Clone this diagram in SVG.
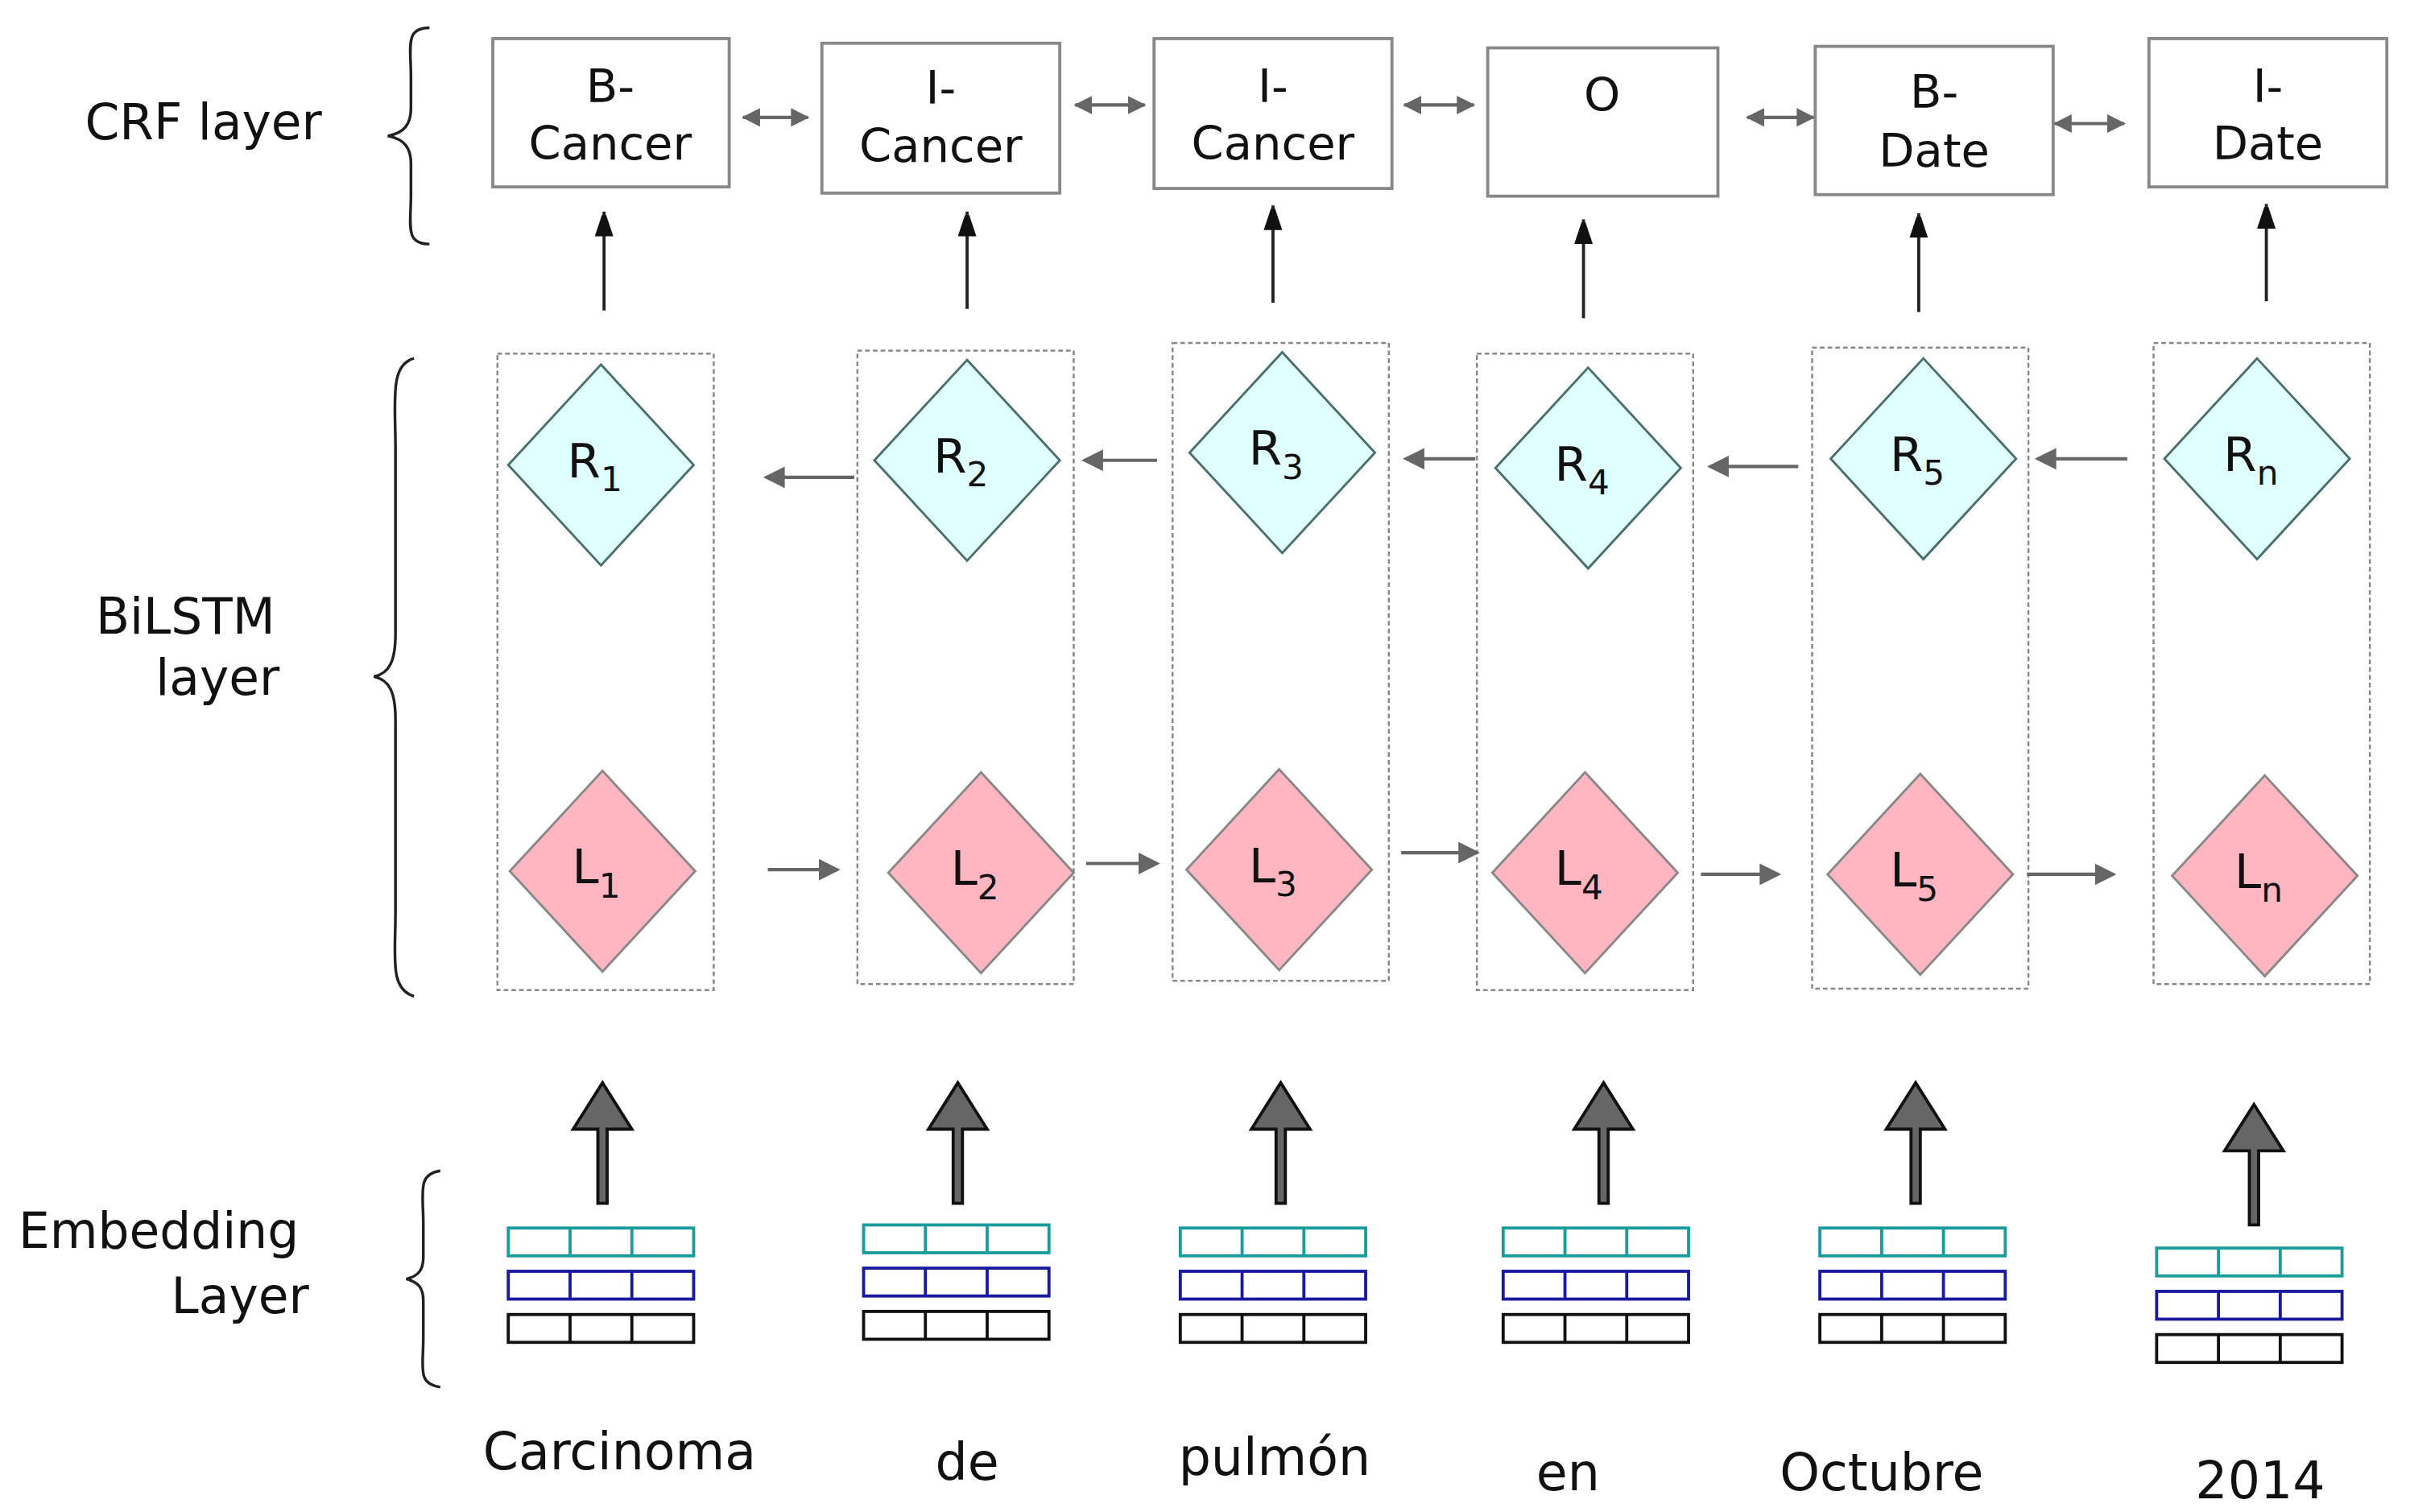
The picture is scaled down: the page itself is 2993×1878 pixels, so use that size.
<svg xmlns="http://www.w3.org/2000/svg" width="2993" height="1878" viewBox="0 0 2993 1878">
<style>
text{font-family:"DejaVu Sans","Liberation Sans",sans-serif;fill:#111}
.lbl{font-size:32px}
.crf{fill:#fff;stroke:#888;stroke-width:2}
.crft{font-size:30px;text-anchor:middle}
.dot{fill:none;stroke:#888;stroke-width:1.3;stroke-dasharray:3,2}
.rd{fill:#e0ffff;stroke:#4a6f6f;stroke-width:1.5}
.ld{fill:#ffb6c1;stroke:#888;stroke-width:1.5}
.dt{font-size:31px;text-anchor:middle}
.sub{font-size:22px}
.gline{stroke:#666;stroke-width:2.2;fill:none}
.kline{stroke:#222;stroke-width:2;fill:none}
.brace{fill:none;stroke:#222;stroke-width:1.8}
.ct{fill:none;stroke:#1a9c9c;stroke-width:2}
.cb{fill:none;stroke:#1a1aa0;stroke-width:2}
.ck{fill:none;stroke:#111;stroke-width:2}
.word{font-size:33px;text-anchor:middle}
</style>
<defs>
<marker id="ga" markerWidth="12" markerHeight="12" refX="11" refY="6" orient="auto-start-reverse" markerUnits="userSpaceOnUse"><path d="M0,0 L12,6 L0,12 Z" fill="#666"/></marker>
<marker id="ha" markerWidth="14" markerHeight="14" refX="12" refY="7" orient="auto" markerUnits="userSpaceOnUse"><path d="M0,0 L14,7 L0,14 Z" fill="#666"/></marker>
<marker id="ka" markerWidth="14" markerHeight="18" refX="16" refY="6" orient="auto" markerUnits="userSpaceOnUse"><path d="M0,0 L18,6 L0,12 Z" fill="#111"/></marker>
<path id="bigarrow" d="M-3,0 L-3,-48 L-19,-48 L0,-78 L19,-48 L3,-48 L3,0 Z" fill="#666" stroke="#111" stroke-width="2"/>
<g id="vec">
<rect class="ct" x="0" y="0" width="120" height="18"/><line class="ct" x1="40" y1="0" x2="40" y2="18"/><line class="ct" x1="80" y1="0" x2="80" y2="18"/>
<rect class="cb" x="0" y="28" width="120" height="18"/><line class="cb" x1="40" y1="28" x2="40" y2="46"/><line class="cb" x1="80" y1="28" x2="80" y2="46"/>
<rect class="ck" x="0" y="56" width="120" height="18"/><line class="ck" x1="40" y1="56" x2="40" y2="74"/><line class="ck" x1="80" y1="56" x2="80" y2="74"/>
</g>
</defs>
<rect width="2993" height="1878" fill="#fff"/>
<g transform="scale(1.9186)">
<g id="labels">
<text class="lbl" x="55" y="90">CRF layer</text>
<text class="lbl" x="62" y="410">BiLSTM</text>
<text class="lbl" x="181" y="450" text-anchor="end">layer</text>
<text class="lbl" x="12" y="808">Embedding</text>
<text class="lbl" x="200" y="850" text-anchor="end">Layer</text>
<path class="brace" d="M278,18 C262,18 266,30 266,50 L266,70 C266,80 262,86 251,88 C262,90 266,96 266,106 L266,126 C266,146 262,158 278,158"/>
<path class="brace" d="M268,232 C252,236 256,260 256,290 L256,410 C256,428 252,436 242,438 C252,440 256,448 256,466 L256,590 C256,620 252,640 268,645"/>
<path class="brace" d="M285,758 C270,760 274,772 274,792 L274,814 C274,822 271,826 263,828 C271,830 274,834 274,842 L274,866 C274,886 270,896 285,898"/>
</g>
<g id="crf">
<g id="crf1"><rect class="crf" x="319" y="25" width="153" height="96"/><text class="crft" x="395" y="66">B-</text><text class="crft" x="395" y="103">Cancer</text></g>
<g id="crf2"><rect class="crf" x="532" y="28" width="154" height="97"/><text class="crft" x="609" y="67">I-</text><text class="crft" x="609" y="105">Cancer</text></g>
<g id="crf3"><rect class="crf" x="747" y="25" width="154" height="97"/><text class="crft" x="824" y="66">I-</text><text class="crft" x="824" y="103">Cancer</text></g>
<g id="crf4"><rect class="crf" x="963" y="31" width="149" height="96"/><text class="crft" x="1037" y="72">O</text></g>
<g id="crf5"><rect class="crf" x="1175" y="30" width="154" height="96"/><text class="crft" x="1252" y="70">B-</text><text class="crft" x="1252" y="108">Date</text></g>
<g id="crf6"><rect class="crf" x="1391" y="25" width="154" height="96"/><text class="crft" x="1468" y="66">I-</text><text class="crft" x="1468" y="103">Date</text></g>
</g>
<g id="columns">
<rect id="col1" class="dot" x="322" y="229" width="140" height="412"/>
<rect id="col2" class="dot" x="555" y="227" width="140" height="410"/>
<rect id="col3" class="dot" x="759" y="222" width="140" height="413"/>
<rect id="col4" class="dot" x="956" y="229" width="140" height="412"/>
<rect id="col5" class="dot" x="1173" y="225" width="140" height="415"/>
<rect id="col6" class="dot" x="1394" y="222" width="140" height="415"/>
</g>
<g id="R">
<g id="R1"><path class="rd" d="M389,236 L449,301 L389,366 L329,301 Z"/><text class="dt" x="385" y="309">R<tspan class="sub" dy="9">1</tspan></text></g>
<g id="R2"><path class="rd" d="M626,233 L686,298 L626,363 L566,298 Z"/><text class="dt" x="622" y="306">R<tspan class="sub" dy="9">2</tspan></text></g>
<g id="R3"><path class="rd" d="M830,228 L890,293 L830,358 L770,293 Z"/><text class="dt" x="826" y="301">R<tspan class="sub" dy="9">3</tspan></text></g>
<g id="R4"><path class="rd" d="M1028,238 L1088,303 L1028,368 L968,303 Z"/><text class="dt" x="1024" y="311">R<tspan class="sub" dy="9">4</tspan></text></g>
<g id="R5"><path class="rd" d="M1245,232 L1305,297 L1245,362 L1185,297 Z"/><text class="dt" x="1241" y="305">R<tspan class="sub" dy="9">5</tspan></text></g>
<g id="R6"><path class="rd" d="M1461,232 L1521,297 L1461,362 L1401,297 Z"/><text class="dt" x="1457" y="305">R<tspan class="sub" dy="9">n</tspan></text></g>
</g>
<g id="L">
<g id="L1"><path class="ld" d="M390,499 L450,564 L390,629 L330,564 Z"/><text class="dt" x="386" y="572">L<tspan class="sub" dy="9">1</tspan></text></g>
<g id="L2"><path class="ld" d="M635,500 L695,565 L635,630 L575,565 Z"/><text class="dt" x="631" y="573">L<tspan class="sub" dy="9">2</tspan></text></g>
<g id="L3"><path class="ld" d="M828,498 L888,563 L828,628 L768,563 Z"/><text class="dt" x="824" y="571">L<tspan class="sub" dy="9">3</tspan></text></g>
<g id="L4"><path class="ld" d="M1026,500 L1086,565 L1026,630 L966,565 Z"/><text class="dt" x="1022" y="573">L<tspan class="sub" dy="9">4</tspan></text></g>
<g id="L5"><path class="ld" d="M1243,501 L1303,566 L1243,631 L1183,566 Z"/><text class="dt" x="1239" y="574">L<tspan class="sub" dy="9">5</tspan></text></g>
<g id="L6"><path class="ld" d="M1466,502 L1526,567 L1466,632 L1406,567 Z"/><text class="dt" x="1462" y="575">L<tspan class="sub" dy="9">n</tspan></text></g>
</g>
<g id="embeddings">
<use href="#vec" x="329" y="795"/>
<use href="#vec" x="559" y="793"/>
<use href="#vec" x="764" y="795"/>
<use href="#vec" x="973" y="795"/>
<use href="#vec" x="1178" y="795"/>
<use href="#vec" x="1396" y="808"/>
</g>
<g id="words">
<text class="word" x="401" y="951">Carcinoma</text>
<text class="word" x="626" y="958">de</text>
<text class="word" x="825" y="955">pulmón</text>
<text class="word" x="1015" y="965">en</text>
<text class="word" x="1218" y="965">Octubre</text>
<text class="word" x="1463" y="970">2014</text>
</g>
<g id="connectors">
<line class="gline" x1="481" y1="76" x2="523" y2="76" marker-start="url(#ga)" marker-end="url(#ga)"/>
<line class="gline" x1="696" y1="68" x2="741" y2="68" marker-start="url(#ga)" marker-end="url(#ga)"/>
<line class="gline" x1="909" y1="68" x2="954" y2="68" marker-start="url(#ga)" marker-end="url(#ga)"/>
<line class="gline" x1="1131" y1="76" x2="1174" y2="76" marker-start="url(#ga)" marker-end="url(#ga)"/>
<line class="gline" x1="1330" y1="80" x2="1375" y2="80" marker-start="url(#ga)" marker-end="url(#ga)"/>
<line class="kline" x1="391" y1="201" x2="391" y2="137" marker-end="url(#ka)"/>
<line class="kline" x1="626" y1="200" x2="626" y2="137" marker-end="url(#ka)"/>
<line class="kline" x1="824" y1="196" x2="824" y2="133" marker-end="url(#ka)"/>
<line class="kline" x1="1025" y1="206" x2="1025" y2="142" marker-end="url(#ka)"/>
<line class="kline" x1="1242" y1="202" x2="1242" y2="138" marker-end="url(#ka)"/>
<line class="kline" x1="1467" y1="195" x2="1467" y2="132" marker-end="url(#ka)"/>
<line class="gline" x1="553" y1="309" x2="496" y2="309" marker-end="url(#ha)"/>
<line class="gline" x1="749" y1="298" x2="702" y2="298" marker-end="url(#ha)"/>
<line class="gline" x1="955" y1="297" x2="910" y2="297" marker-end="url(#ha)"/>
<line class="gline" x1="1164" y1="302" x2="1107" y2="302" marker-end="url(#ha)"/>
<line class="gline" x1="1377" y1="297" x2="1319" y2="297" marker-end="url(#ha)"/>
<line class="gline" x1="497" y1="563" x2="542" y2="563" marker-end="url(#ha)"/>
<line class="gline" x1="703" y1="559" x2="749" y2="559" marker-end="url(#ha)"/>
<line class="gline" x1="907" y1="552" x2="956" y2="552" marker-end="url(#ha)"/>
<line class="gline" x1="1101" y1="566" x2="1151" y2="566" marker-end="url(#ha)"/>
<line class="gline" x1="1312" y1="566" x2="1368" y2="566" marker-end="url(#ha)"/>
<use href="#bigarrow" x="390" y="779"/>
<use href="#bigarrow" x="620" y="779"/>
<use href="#bigarrow" x="829" y="779"/>
<use href="#bigarrow" x="1038" y="779"/>
<use href="#bigarrow" x="1240" y="779"/>
<use href="#bigarrow" x="1459" y="793"/>
</g>
</g>
</svg>
